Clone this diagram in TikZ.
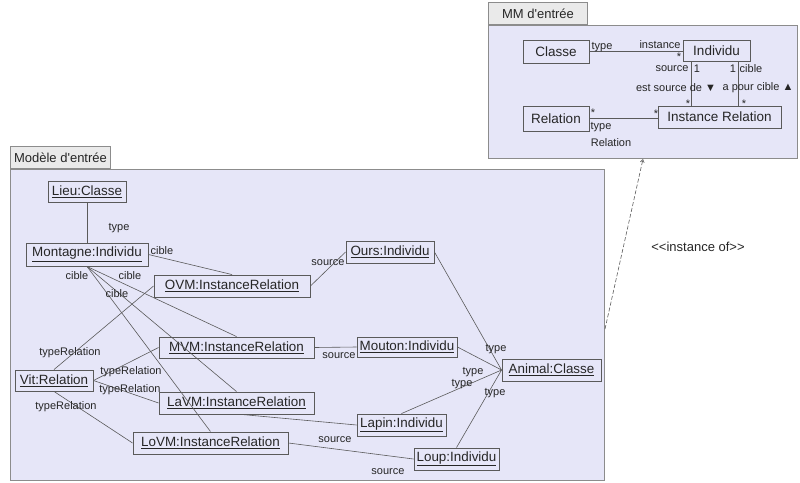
\documentclass[tikz,border=0pt]{standalone}
\usepackage{fontspec}
\setmainfont{Liberation Sans}[Ligatures=TeXOff]
\usetikzlibrary{arrows.meta}
\definecolor{PkgFill}{HTML}{E6E6F8}
\definecolor{TabFill}{HTML}{EAEAEA}
\definecolor{PkgLine}{HTML}{8C8C8C}
\definecolor{BoxLine}{HTML}{5A5A5A}
\definecolor{Ink}{HTML}{262626}

\begin{document}
\begin{tikzpicture}[x=1pt, y=-1pt,
    every node/.style={text=Ink, inner sep=0pt},
    pkg/.style={draw=PkgLine, fill=PkgFill, line width=1pt, anchor=north west},
    tab/.style={draw=PkgLine, fill=TabFill, line width=1pt, anchor=south west,
      minimum height=22pt, font=\fontsize{13}{15}\selectfont},
    obj/.style={draw=BoxLine, line width=0.9pt, minimum height=22pt,
      font=\fontsize{13.4}{15}\selectfont},
    cls/.style={draw=BoxLine, line width=0.9pt, minimum height=22pt,
      font=\fontsize{13.5}{15}\selectfont},
    lbl/.style={font=\fontsize{11}{13}\selectfont},
    link/.style={draw=BoxLine, line width=0.6pt}]
  \useasboundingbox (0,0) rectangle (800,482);

  % packages
  \node[pkg, minimum width=309pt, minimum height=133pt] (mm) at (488,25) {};
  \node[tab, minimum width=99pt] (mmtab) at (mm.north west) {MM d'entrée};
  \node[pkg, minimum width=594pt, minimum height=311pt] (modele) at (10,169) {};
  \node[tab, minimum width=100pt] (modeletab) at (modele.north west) {Modèle d'entrée};

  % metamodel
  \node[cls, minimum width=66pt, minimum height=23pt] (classe) at (556,51.5) {Classe};
  \node[cls, minimum width=67pt, minimum height=21pt] (individu) at (716.5,50.5) {Individu};
  \node[cls, minimum width=66pt, minimum height=25pt] (relation) at (556,118.5) {Relation};
  \node[cls, minimum width=123pt] (instrel) at (719.5,117) {Instance Relation};

  \draw[link] (classe.east) -- (classe.east -| individu.west);
  \draw[link] ([xshift=9pt]individu.south west) -- ([xshift=9pt]individu.south west |- instrel.north);
  \draw[link] ([xshift=-12pt]individu.south east) -- ([xshift=-12pt]individu.south east |- instrel.north);
  \draw[link] (relation.east) -- (relation.east -| instrel.west);

  \node[lbl] (ltype) at (602,47) {type};
  \node[lbl] (linstance) at (660,45) {instance};
  \node[lbl] (lstar1) at (679,57) {*};
  \node[lbl] (lsource) at (672,69) {source};
  \node[lbl] (lun1) at (697,69) {1};
  \node[lbl] (lun2) at (733,69) {1};
  \node[lbl] (lcible) at (751,69) {cible};
  \node[lbl] (lestsource) at (676,88) {est source de ▼};
  \node[lbl] (lapour) at (758,88) {a pour cible ▲};
  \node[lbl] (lstar2) at (688,104) {*};
  \node[lbl] (lstar3) at (744,104) {*};
  \node[lbl] (lstar4) at (593,113) {*};
  \node[lbl] (lstar5) at (656,114) {*};
  \node[lbl] (ltyperel) at (601,127) {type};
  \node[lbl] (lrelation) at (611,143) {Relation};

  % instance of
  \draw[BoxLine, line width=0.6pt, dash pattern=on 4pt off 2pt,
    -{Straight Barb[length=3pt, width=4pt]}] ([yshift=-4pt]modele.east) -- (mm.south);
  \node[lbl, font=\fontsize{13}{15}\selectfont] (linstof) at (698,247) {<<instance of>>};

  % model
  \node[obj, minimum width=78pt, minimum height=21pt] (lieu) at (87,191.5) {\underline{Lieu:Classe}};
  \node[obj, minimum width=122pt, minimum height=23pt] (montagne) at (87,254.5) {\underline{Montagne:Individu}};
  \node[obj, minimum width=156pt] (ovm) at (232,286) {\underline{OVM:InstanceRelation}};
  \node[obj, minimum width=88pt] (ours) at (390,252) {\underline{Ours:Individu}};
  \node[obj, minimum width=155pt, minimum height=21pt] (mvm) at (236.5,347.5) {\underline{MVM:InstanceRelation}};
  \node[obj, minimum width=100pt, minimum height=20pt] (mouton) at (407,347) {\underline{Mouton:Individu}};
  \node[obj, minimum width=78pt, minimum height=21pt] (vit) at (54,380.5) {\underline{Vit:Relation}};
  \node[obj, minimum width=155pt] (lavm) at (236.5,403) {\underline{LaVM:InstanceRelation}};
  \node[obj, minimum width=155pt] (lovm) at (210.5,443) {\underline{LoVM:InstanceRelation}};
  \node[obj, minimum width=99pt] (animal) at (551.5,370) {\underline{Animal:Classe}};
  \node[obj, minimum width=89pt] (lapin) at (401.5,425) {\underline{Lapin:Individu}};
  \node[obj, minimum width=85pt] (loup) at (456.5,459) {\underline{Loup:Individu}};

  \draw[link] (lieu.south) -- (montagne.north);
  \draw[link] (montagne.east) -- (ovm.north);
  \draw[link] (montagne.south) -- (mvm.north);
  \draw[link] (montagne.south) -- (lavm.north);
  \draw[link] (montagne.south) -- (lovm.north);
  \draw[link] (ovm.west) -- (vit.north);
  \draw[link] (vit.east) -- (mvm.west);
  \draw[link] (vit.east) -- (lavm.west);
  \draw[link] (vit.south) -- (lovm.west);
  \draw[link] (ovm.east) -- (ours.west);
  \draw[link] (mvm.east) -- (mouton.west);
  \draw[link] ([xshift=5pt]lavm.south) -- (lapin.west);
  \draw[link] (lovm.east) -- (loup.west);
  \draw[link] (ours.east) -- (animal.west);
  \draw[link] (mouton.east) -- (animal.west);
  \draw[link] (lapin.north) -- (animal.west);
  \draw[link] (loup.north) -- (animal.west);

  \node[lbl] (ltype1) at (119,228) {type};
  \node[lbl] (lcible1) at (162,251) {cible};
  \node[lbl] (lcible2) at (77,276) {cible};
  \node[lbl] (lcible3) at (130,276) {cible};
  \node[lbl] (lcible4) at (117,294) {cible};
  \node[lbl] (ltr1) at (70,353) {typeRelation};
  \node[lbl] (ltr2) at (131,372) {typeRelation};
  \node[lbl] (ltr3) at (130,390) {typeRelation};
  \node[lbl] (ltr4) at (66,407) {typeRelation};
  \node[lbl] (lsrc1) at (328,263) {source};
  \node[lbl] (lsrc2) at (339,356) {source};
  \node[lbl] (lsrc3) at (335,440) {source};
  \node[lbl] (lsrc4) at (388,472) {source};
  \node[lbl] (ltype2) at (496,349) {type};
  \node[lbl] (ltype3) at (473,372) {type};
  \node[lbl] (ltype4) at (462,384) {type};
  \node[lbl] (ltype5) at (495,393) {type};
\end{tikzpicture}
\end{document}
